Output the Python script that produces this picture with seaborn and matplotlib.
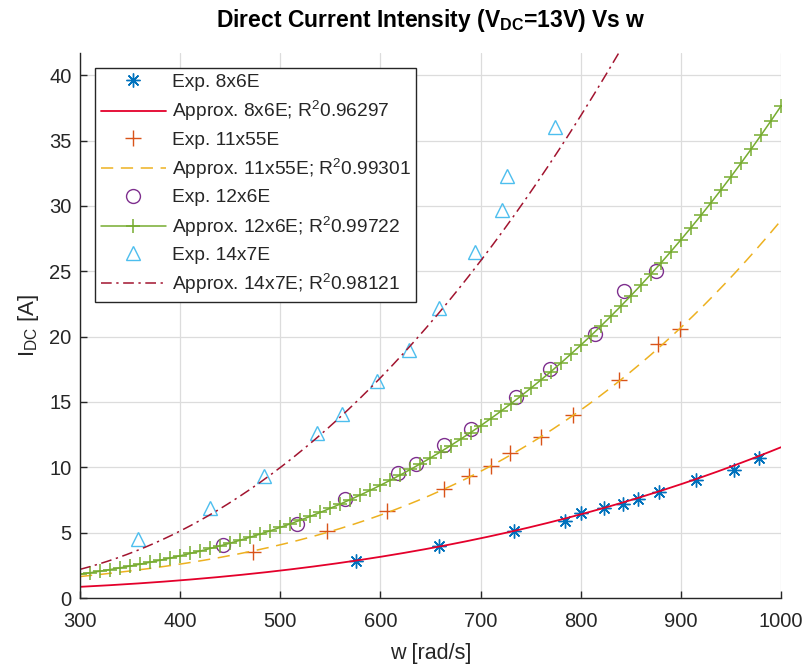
import numpy as np
import matplotlib
matplotlib.use('Agg')
import matplotlib.pyplot as plt
import seaborn as sns

w_8x6 = [576, 658, 733, 784, 800, 823, 842, 857, 878, 915, 953, 978]
i_8x6 = [2.8, 3.95, 5.15, 5.9, 6.5, 6.9, 7.2, 7.6, 8.1, 9.0, 9.8, 10.7]

w_11x55 = [473, 547, 607, 663, 688, 710, 729, 760, 792, 838, 877, 899]
i_11x55 = [3.55, 5.15, 6.65, 8.35, 9.3, 10.1, 11.1, 12.3, 14.0, 16.65, 19.4, 20.6]

w_12x6 = [443, 517, 565, 618, 636, 663, 690, 735, 769, 814, 843, 875]
i_12x6 = [4.05, 5.7, 7.6, 9.6, 10.25, 11.7, 12.9, 15.4, 17.5, 20.2, 23.5, 25.0]

w_14x7 = [358, 430, 484, 537, 562, 597, 629, 658, 694, 721, 726, 774]
i_14x7 = [4.5, 6.85, 9.35, 12.6, 14.05, 16.6, 19.0, 22.2, 26.5, 29.7, 32.3, 36.0]

# Approximation curves, values
fit_w = [300, 400, 500, 600, 700, 800, 900, 1000]
fit_8x6 = [0.84, 1.4, 2.05, 3.15, 4.56, 6.46, 8.65, 11.55]
fit_11x55 = [1.65, 2.6, 4.0, 6.4, 9.75, 14.3, 20.7, 28.9]
fit_12x6 = [1.85, 3.2, 5.3, 8.7, 13.3, 19.3, 27.3, 37.7]
fit_w_14x7 = [300, 400, 500, 600, 700, 800, 840]
fit_14x7 = [2.15, 5.2, 10.05, 16.7, 25.7, 37.3, 41.7]

r2_values = ['0.96297', '0.99301', '0.99722', '0.98121']

sns.set_style('white')
plt.rcParams['font.family'] = ['Liberation Sans', 'DejaVu Sans']
plt.rcParams['mathtext.fontset'] = 'custom'
plt.rcParams['mathtext.rm'] = 'Liberation Sans'
plt.rcParams['mathtext.bf'] = 'Liberation Sans:bold'
plt.rcParams['mathtext.it'] = 'Liberation Sans:italic'

fig = plt.figure(figsize=(8.03, 6.69), dpi=100, facecolor='white')
ax = fig.add_axes([80 / 803, 71 / 669, 701 / 803, 545 / 669])
ax.set_facecolor('white')


def smooth(xs, ys, grid):
    # cubic through the values
    return np.polyval(np.polyfit(xs, ys, 3), grid)


w_fine = np.linspace(300, 1000, 400)
w_fine_14 = np.linspace(300, 850, 300)
w_mark = np.arange(300, 1001, 10)

exp_style = dict(linestyle='none', markerfacecolor='none', markeredgewidth=1.0)

# 8x6E
sns.lineplot(x=w_8x6, y=i_8x6, ax=ax, marker=(8, 2, 0), markersize=10,
             color='#0072BD', markeredgecolor='#0072BD', label='Exp. 8x6E',
             **exp_style)
sns.lineplot(x=w_fine, y=smooth(fit_w, fit_8x6, w_fine), ax=ax, color='#E4002B',
             linewidth=1.3, label='Approx. 8x6E; R$^{2}$' + r2_values[0])

# 11x55E
sns.lineplot(x=w_11x55, y=i_11x55, ax=ax, marker='+', markersize=12,
             color='#D95319', markeredgecolor='#D95319', label='Exp. 11x55E',
             **exp_style)
sns.lineplot(x=w_fine, y=smooth(fit_w, fit_11x55, w_fine), ax=ax, color='#EDB120',
             linewidth=1.1, dashes=(8, 5), label='Approx. 11x55E; R$^{2}$' + r2_values[1])

# 12x6E
sns.lineplot(x=w_12x6, y=i_12x6, ax=ax, marker='o', markersize=10,
             color='#7E2F8E', markeredgecolor='#7E2F8E', label='Exp. 12x6E',
             **exp_style)
sns.lineplot(x=w_mark, y=smooth(fit_w, fit_12x6, w_mark), ax=ax, color='#77AC30',
             linewidth=1.1, marker='+', markersize=10, markeredgewidth=1.1,
             markeredgecolor='#77AC30', label='Approx. 12x6E; R$^{2}$' + r2_values[2])

# 14x7E
sns.lineplot(x=w_14x7, y=i_14x7, ax=ax, marker='^', markersize=10,
             color='#4DBEEE', markeredgecolor='#4DBEEE', label='Exp. 14x7E',
             **exp_style)
sns.lineplot(x=w_fine_14, y=smooth(fit_w_14x7, fit_14x7, w_fine_14), ax=ax,
             color='#A2142F', linewidth=1.1, dashes=(7, 3, 1.5, 3),
             label='Approx. 14x7E; R$^{2}$' + r2_values[3])

ax.set_xlim(300, 1000)
ax.set_ylim(0, 41.7)
ax.set_xticks(range(300, 1001, 100))
ax.set_yticks(range(0, 41, 5))
ax.grid(True, color='#dcdcdc', linewidth=0.9)
ax.set_axisbelow(True)
for side in ['top', 'right']:
    ax.spines[side].set_visible(False)
for side in ['left', 'bottom']:
    ax.spines[side].set_color('#262626')
    ax.spines[side].set_linewidth(1.0)
ax.tick_params(direction='in', length=5, width=1, colors='#262626',
               labelsize=14.5, labelcolor='#262626', left=True, bottom=True, pad=6)
ax.tick_params(axis='x', pad=10)

ax.set_xlabel('w [rad/s]', fontsize=15.5, color='#262626', labelpad=9)
ax.set_ylabel(r'I$_{\mathrm{DC}}$ [A]', fontsize=16, color='#262626', labelpad=6)
ax.set_title(r'Direct Current Intensity (V$_{\mathbf{DC}}$=13V) Vs w',
             fontsize=16.5, fontweight='bold', color='black', pad=19)

leg = ax.legend(loc='upper left', bbox_to_anchor=(15 / 701, 530 / 545),
                borderaxespad=0, fontsize=13.8, frameon=True, fancybox=False,
                framealpha=1, edgecolor='#262626', handlelength=3.4,
                handletextpad=0.3, labelspacing=0.42, borderpad=0.3)
leg.get_frame().set_linewidth(1.0)

plt.savefig('out.png', dpi=100, facecolor='white')
plt.close()
